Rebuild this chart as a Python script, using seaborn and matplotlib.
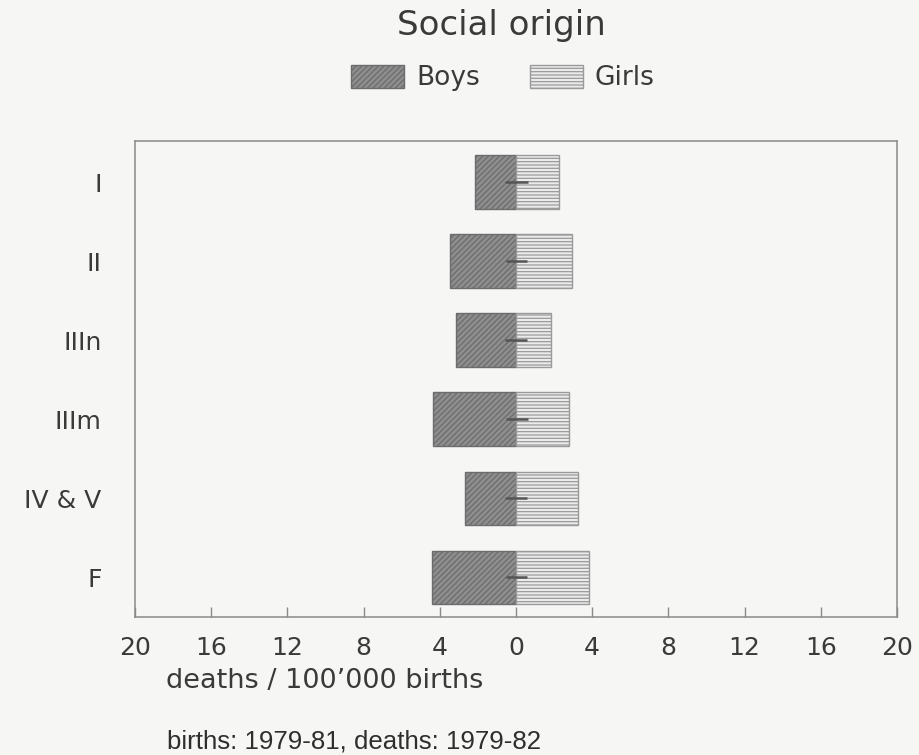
import matplotlib
matplotlib.use("Agg")
import matplotlib.pyplot as plt
import numpy as np
import pandas as pd
import seaborn as sns

# Social origin categories, top to bottom
categories = ["I", "II", "IIIn", "IIIm", "IV & V", "F"]
# deaths per 100'000 births
boys = [2.15, 3.45, 3.15, 4.35, 2.7, 4.4]
girls = [2.25, 2.95, 1.85, 2.8, 3.25, 3.85]
# short interval marks drawn across the centre line of each bar
interval_lo = [-0.58, -0.5, -0.58, -0.5, -0.58, -0.55]
interval_hi = [0.62, 0.6, 0.6, 0.62, 0.6, 0.6]
tick_values = [-20, -16, -12, -8, -4, 0, 4, 8, 12, 16, 20]

sns.set_theme(style="white")
plt.rcParams["font.family"] = ["DejaVu Sans"]
plt.rcParams["hatch.linewidth"] = 0.9

text_col = "#3a3a3a"
bg = "#f6f6f4"

df = pd.DataFrame({"origin": categories,
                   "boys": -np.array(boys),
                   "girls": np.array(girls)})

fig = plt.figure(figsize=(9.19, 7.55), dpi=100, facecolor=bg)
ax = fig.add_axes([135 / 919, 1 - 617 / 755, (897 - 135) / 919, (617 - 141) / 755])
ax.set_facecolor(bg)

sns.barplot(data=df, x="boys", y="origin", orient="h", color="#8e8e8e",
            width=0.68, errorbar=None, saturation=1, label="Boys", ax=ax)
n_boys = len(ax.patches)
sns.barplot(data=df, x="girls", y="origin", orient="h", color="#ebebeb",
            width=0.68, errorbar=None, saturation=1, label="Girls", ax=ax)

for i, p in enumerate(ax.patches):
    if i < n_boys:
        p.set_hatch("//////")
        p.set_edgecolor("#6c6c6c")
    else:
        p.set_hatch("-----")
        p.set_edgecolor("#9a9a9a")
    p.set_linewidth(1.0)

ax.hlines(y=np.arange(len(categories)), xmin=interval_lo, xmax=interval_hi,
          color="#555555", linewidth=1.8, zorder=5)

ax.set_xlim(-20, 20)
ax.set_ylim(5.50, -0.52)
ax.set_xticks(tick_values)
ax.set_xticklabels([str(abs(v)) for v in tick_values], fontsize=18, color=text_col)
ax.tick_params(axis="x", direction="in", length=7.5, width=1.0, color="#8a8a8a",
               pad=14, bottom=True)
ax.tick_params(axis="y", length=0, pad=24)
ax.set_yticks(range(len(categories)))
ax.set_yticklabels(categories, fontsize=18, color=text_col)
ax.set_xlabel("")
ax.set_ylabel("")
for s in ax.spines.values():
    s.set_visible(True)
    s.set_color("#8a8a8a")
    s.set_linewidth(1.1)

handles, labels = ax.get_legend_handles_labels()
if ax.get_legend() is not None:
    ax.get_legend().remove()
fig.legend(handles, labels, loc="center", bbox_to_anchor=(503 / 919, 1 - 78 / 755),
           ncol=2, frameon=False, fontsize=19, handlelength=2.0, handleheight=1.0,
           handletextpad=0.45, columnspacing=1.9, labelcolor=text_col)

fig.text(501 / 919, 1 - 25 / 755, "Social origin", ha="center", va="center",
         fontsize=24.5, color=text_col)
fig.text(325 / 919, 1 - 681 / 755, "deaths / 100\u2019000 births", ha="center",
         va="center", fontsize=19.5, color=text_col, fontweight="medium")
fig.text(167 / 919, 1 - 741 / 755, "births: 1979-81, deaths: 1979-82", ha="left",
         va="center", fontsize=18.6, color="#2e2e2e", family=["Liberation Sans"])

fig.savefig("out.png", dpi=100, facecolor=bg)
